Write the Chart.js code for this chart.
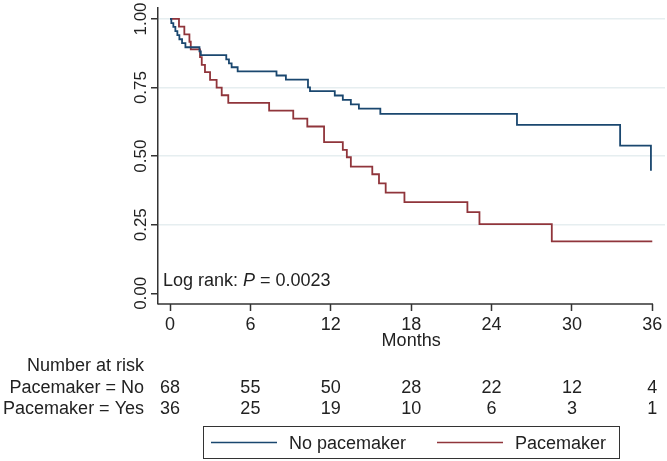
<!DOCTYPE html>
<html>
<head>
<meta charset="utf-8">
<script src="https://cdn.jsdelivr.net/npm/chart.js@4.4.1/dist/chart.umd.min.js"></script>
<style>
  html, body { margin: 0; padding: 0; background: #fff; }
  canvas { display: block; }
</style>
</head>
<body>
<canvas id="km" width="667" height="461"></canvas>
<script>
// Kaplan-Meier steps (month of drop, survival after it)
const noPmMonths = [0, 0.1, 0.25, 0.4, 0.55, 0.7, 0.9, 1.15, 2.2, 2.3, 4.2, 4.4, 4.6, 5.05, 7.95, 8.65, 10.3, 10.45, 12.3, 12.9, 13.5, 14.1, 15.7, 25.9, 33.6, 35.9];
const noPmSurv = [1, 0.985, 0.971, 0.956, 0.941, 0.926, 0.912, 0.897, 0.882, 0.868, 0.853, 0.838, 0.824, 0.809, 0.794, 0.779, 0.751, 0.737, 0.721, 0.705, 0.689, 0.673, 0.654, 0.614, 0.538, 0.447];

const pmMonths = [0, 0.67, 1.07, 1.45, 1.55, 2.24, 2.37, 2.61, 2.99, 3.48, 3.86, 4.35, 7.4, 9.2, 10.25, 11.5, 12.9, 13.2, 13.5, 15.1, 15.6, 16.1, 17.5, 22.2, 23.1, 28.5, 36];
const pmSurv = [1, 0.972, 0.944, 0.917, 0.889, 0.861, 0.833, 0.806, 0.778, 0.75, 0.722, 0.694, 0.666, 0.637, 0.608, 0.551, 0.523, 0.496, 0.462, 0.434, 0.401, 0.367, 0.332, 0.296, 0.252, 0.189, 0.189];

const monthTicks = [0, 6, 12, 18, 24, 30, 36];
const survTicks = [0, 0.25, 0.5, 0.75, 1];

const riskLabels = ['Pacemaker = No', 'Pacemaker = Yes'];
const riskNo = [68, 55, 50, 28, 22, 12, 4];
const riskYes = [36, 25, 19, 10, 6, 3, 1];

const seriesNames = ['No pacemaker', 'Pacemaker'];
const seriesColors = ['#1a476f', '#90353b'];

const FONT = '"Liberation Sans", Arial, sans-serif';
const INK = '#222';
const AXIS = '#333';

const toPoints = (xs, ys) => xs.map((x, i) => ({ x, y: ys[i] }));

// text parts Stata puts round the plot: tick labels, risk table, note, legend
const extras = {
  id: 'extras',
  afterDraw(chart) {
    const { ctx, chartArea: area, scales: { x, y } } = chart;
    ctx.save();

    // x axis line stops at the last tick
    ctx.strokeStyle = AXIS;
    ctx.lineWidth = 1.5;
    ctx.beginPath();
    ctx.moveTo(area.left, area.bottom);
    ctx.lineTo(x.getPixelForValue(36) + 0.75, area.bottom);
    ctx.stroke();

    ctx.fillStyle = INK;
    ctx.font = '18px ' + FONT;
    ctx.textBaseline = 'alphabetic';
    ctx.textAlign = 'center';
    monthTicks.forEach(m => ctx.fillText(String(m), x.getPixelForValue(m), 330));
    ctx.fillText('Months', x.getPixelForValue(18), 346);

    // y labels, turned to read upwards
    ctx.font = '17px ' + FONT;
    survTicks.forEach(v => {
      ctx.save();
      ctx.translate(146, y.getPixelForValue(v));
      ctx.rotate(-Math.PI / 2);
      ctx.fillText(v.toFixed(2), 0, 0);
      ctx.restore();
    });

    // log rank note
    ctx.font = '18px ' + FONT;
    ctx.textAlign = 'left';
    let tx = 163;
    const part1 = 'Log rank: ';
    ctx.fillText(part1, tx, 286);
    tx += ctx.measureText(part1).width;
    ctx.font = 'italic 18px ' + FONT;
    ctx.fillText('P', tx, 286);
    tx += ctx.measureText('P').width;
    ctx.font = '18px ' + FONT;
    ctx.fillText(' = 0.0023', tx, 286);

    // number at risk
    ctx.textAlign = 'right';
    ctx.fillText('Number at risk', 144, 371);
    ctx.fillText(riskLabels[0], 144, 393);
    ctx.fillText(riskLabels[1], 144, 414);
    ctx.textAlign = 'center';
    monthTicks.forEach((m, i) => {
      const px = x.getPixelForValue(m);
      ctx.fillText(String(riskNo[i]), px, 393);
      ctx.fillText(String(riskYes[i]), px, 414);
    });

    // legend
    ctx.strokeStyle = AXIS;
    ctx.lineWidth = 1;
    ctx.strokeRect(203.5, 426.5, 416, 32);
    const keys = [[211, 277, 289], [437, 503, 515]];
    keys.forEach((k, i) => {
      ctx.strokeStyle = seriesColors[i];
      ctx.lineWidth = 1.5;
      ctx.beginPath();
      ctx.moveTo(k[0], 442.5);
      ctx.lineTo(k[1], 442.5);
      ctx.stroke();
      ctx.textAlign = 'left';
      ctx.fillText(seriesNames[i], k[2], 449);
    });

    ctx.restore();
  }
};

new Chart(document.getElementById('km'), {
  type: 'line',
  data: {
    datasets: [
      {
        label: seriesNames[0],
        data: toPoints(noPmMonths, noPmSurv),
        borderColor: seriesColors[0],
        borderWidth: 1.8,
        stepped: true,
        pointRadius: 0,
        fill: false
      },
      {
        label: seriesNames[1],
        data: toPoints(pmMonths, pmSurv),
        borderColor: seriesColors[1],
        borderWidth: 1.8,
        stepped: true,
        pointRadius: 0,
        fill: false
      }
    ]
  },
  options: {
    responsive: false,
    animation: false,
    layout: { padding: { top: 8, right: 2, left: 0, bottom: 0 } },
    plugins: { legend: { display: false }, tooltip: { enabled: false } },
    scales: {
      x: {
        type: 'linear',
        min: -0.896,
        max: 36.95,
        afterBuildTicks: s => { s.ticks = monthTicks.map(v => ({ value: v })); },
        afterFit: s => { s.height = 157; },
        ticks: { display: false },
        grid: { drawOnChartArea: false, tickLength: 7, tickColor: AXIS, tickWidth: 1.5 },
        border: { display: false }
      },
      y: {
        min: -0.039,
        max: 1.04,
        afterBuildTicks: s => { s.ticks = survTicks.map(v => ({ value: v })); },
        afterFit: s => { s.width = 158; },
        ticks: { display: false },
        grid: {
          color: c => (c.tick && c.tick.value === 0 ? 'rgba(0,0,0,0)' : '#e6eef0'),
          lineWidth: 1.5,
          tickLength: 7,
          tickColor: AXIS,
          tickWidth: 1.5
        },
        border: { color: AXIS, width: 1.5 }
      }
    }
  },
  plugins: [extras]
});
</script>
</body>
</html>
